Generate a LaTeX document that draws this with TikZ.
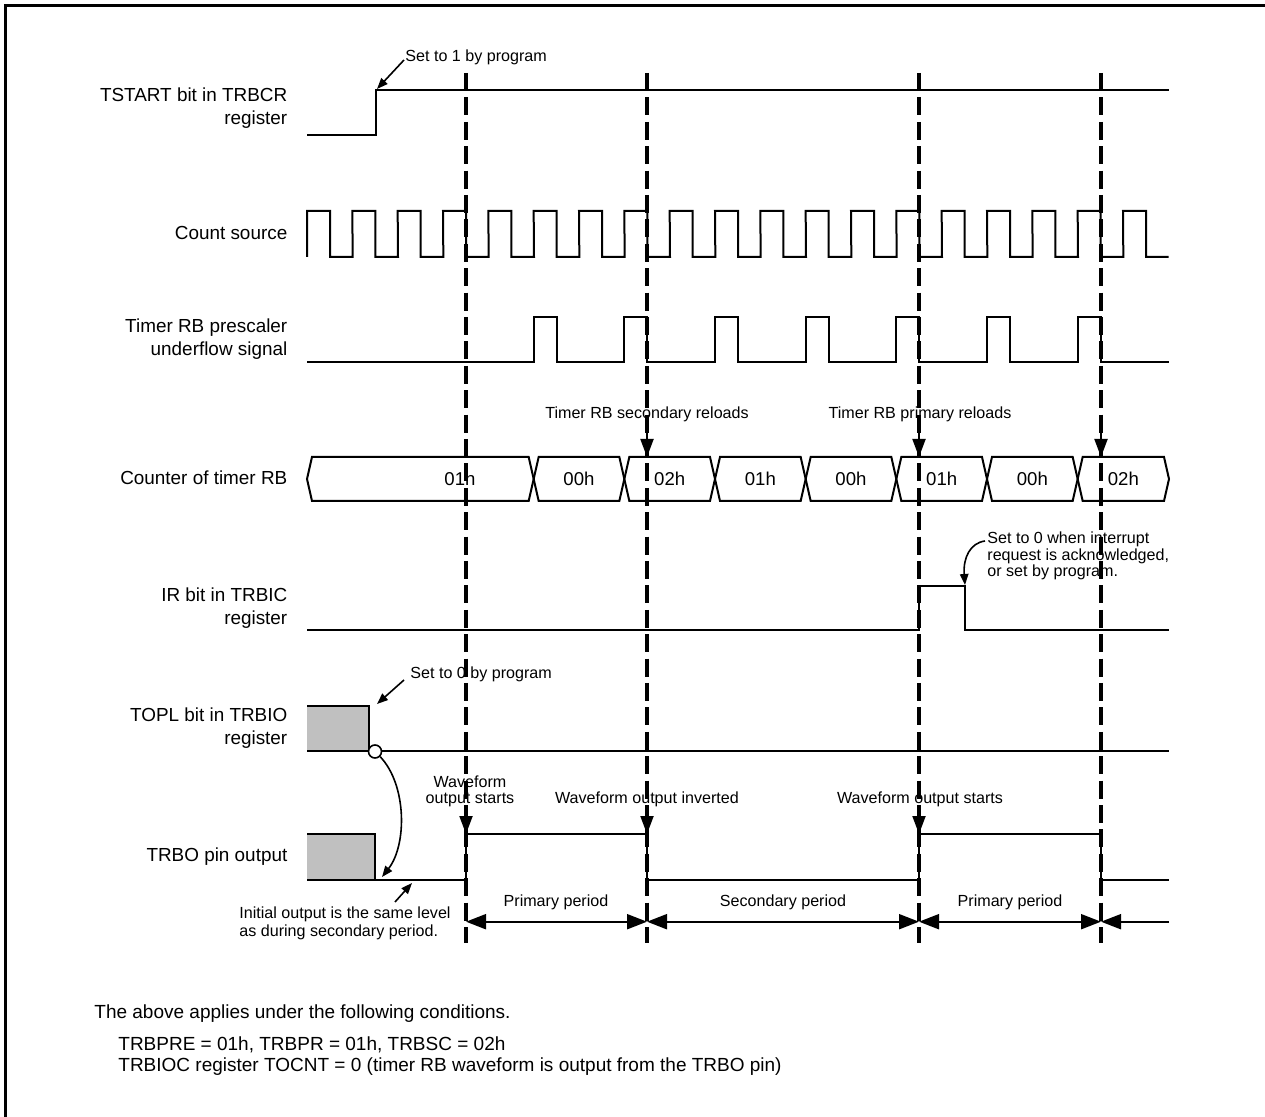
\documentclass[tikz,border=0pt]{standalone}
\usepackage{fontspec}
\setmainfont{Liberation Sans}
\usetikzlibrary{arrows.meta}
\definecolor{boxgray}{RGB}{192,192,192}
\begin{document}
\begin{tikzpicture}[x=0.5pt,y=-0.5pt,
  wave/.style={line width=1pt},
  guide/.style={line width=1.7pt, dash pattern=on 9pt off 3.2pt},
  lbl/.style={font=\fontsize{9.45}{11.4}\selectfont, align=right, anchor=east, inner sep=0pt},
  ann/.style={font=\fontsize{8.05}{8.1}\selectfont, inner sep=0pt},
  cnt/.style={font=\fontsize{9.3}{11}\selectfont, inner sep=0pt},
  foot/.style={font=\fontsize{9.5}{11}\selectfont, anchor=west, inner sep=0pt},
  downarr/.style={line width=1pt, -{Triangle[length=9pt,width=6.5pt]}},
  dimarr/.style={line width=1pt, {Triangle[length=10pt,width=7.5pt]}-{Triangle[length=10pt,width=7.5pt]}},
  leftarr/.style={line width=1pt, -{Triangle[length=10pt,width=7.5pt]}},
  sarr/.style={line width=0.8pt, -{Triangle[length=5.5pt,width=4.2pt]}}]
\useasboundingbox (0,0) rectangle (1265,1117);
% frame
\draw[line width=1.75pt] (5.3,1117) -- (5.3,5.5) -- (1265,5.5);

% row labels
\node[lbl] (lTS) at (287.7,108) {TSTART bit in TRBCR\\register};
\node[lbl] (lCS) at (287.7,233) {Count source};
\node[lbl] (lPS) at (287.7,339) {Timer RB prescaler\\underflow signal};
\node[lbl] (lCT) at (287.7,478) {Counter of timer RB};
\node[lbl] (lIR) at (287.7,608) {IR bit in TRBIC\\register};
\node[lbl] (lTP) at (287.7,728) {TOPL bit in TRBIO\\register};
\node[lbl] (lTO) at (287.7,857) {TRBO pin output};

% TSTART
\draw[wave] (307,135) -- (376,135) -- (376,90) -- (1169,90);
\node[ann, anchor=west] (set1) at (405,57) {Set to 1 by program};
\coordinate (set1a) at (404,60);
\coordinate (set1b) at (377,89);
\draw[sarr] (set1a) -- (set1b);

% count source
\draw[wave] (307,257) \foreach \k in {0,...,18} {
  -- ({307+45.333*\k},211) -- ({330+45.333*\k},211) -- ({330+45.333*\k},257) -- ({352.667+45.333*\k},257) };

% prescaler underflow
\draw[wave] (307,362) \foreach \k in {5,7,...,17} {
  -- ({307+45.333*\k},362) -- ({307+45.333*\k},317) -- ({330+45.333*\k},317) -- ({330+45.333*\k},362) } -- (1169,362);

% counter of timer RB
\foreach \a/\b/\t/\tx [count=\i] in {307/533.67/01h/460, 533.67/624.33/00h/579, 624.33/715/02h/669.67, 715/805.67/01h/760.33, 805.67/896.33/00h/851, 896.33/987/01h/941.67, 987/1077.67/00h/1032.33, 1077.67/1169/02h/1123.33} {
  \draw[wave] (\a,479) -- ({\a+5},457) -- ({\b-5},457) -- (\b,479) -- ({\b-5},501) -- ({\a+5},501) -- cycle;
  \node[cnt] (c\i) at (\tx,479) {\t};
}
\node[ann] (secrel) at (647,414) {Timer RB secondary reloads};
\node[ann] (primrel) at (920,414) {Timer RB primary reloads};
\coordinate (r1a) at (647,425); \coordinate (r1b) at (647,457);
\coordinate (r2a) at (919,425); \coordinate (r2b) at (919,457);
\coordinate (r3a) at (1101,425); \coordinate (r3b) at (1101,457);
\draw[downarr] (r1a) -- (r1b);
\draw[downarr] (r2a) -- (r2b);
\draw[downarr] (r3a) -- (r3b);

% IR bit
\draw[wave] (307,630) -- (919,630) -- (919,586) -- (965,586) -- (965,630) -- (1169,630);
\node[ann, anchor=west, align=left] (irnote) at (987,556) {Set to 0 when interrupt\\request is acknowledged,\\or set by program.};
\coordinate (ira) at (985,541);
\coordinate (irb) at (965,585);
\draw[sarr] (ira) .. controls (970,543) and (963,558) .. (irb);

% TOPL
\fill[boxgray] (307,706) rectangle (369,751);
\draw[wave] (307,706) -- (369,706) -- (369,751);
\draw[wave] (307,751) -- (1169,751);
\node[ann, anchor=west] (set0) at (410,674) {Set to 0 by program};
\coordinate (set0a) at (404,680);
\coordinate (set0b) at (377,704);
\draw[sarr] (set0a) -- (set0b);
\node[circle, draw, fill=white, line width=0.8pt, minimum size=6.5pt, inner sep=0pt] (circ) at (375,751.5) {};

% TRBO
\fill[boxgray] (307,834) rectangle (375,880);
\draw[wave] (307,834) -- (375,834) -- (375,880);
\draw[wave] (307,880) -- (466,880) -- (466,834) -- (647,834) -- (647,880) -- (919,880) -- (919,834) -- (1101,834) -- (1101,880) -- (1169,880);
\coordinate (cend) at (382,877);
\draw[sarr] (circ.south east) .. controls (407,785) and (407,845) .. (cend);

\node[ann, align=center] (wf1) at (470,791) {Waveform\\output starts};
\node[ann] (wf2) at (647,799) {Waveform output inverted};
\node[ann] (wf3) at (920,799) {Waveform output starts};
\coordinate (w1a) at (466,806); \coordinate (w1b) at (466,834);
\coordinate (w2a) at (647,806); \coordinate (w2b) at (647,834);
\coordinate (w3a) at (919,806); \coordinate (w3b) at (919,834);
\draw[downarr] (w1a) -- (w1b);
\draw[downarr] (w2a) -- (w2b);
\draw[downarr] (w3a) -- (w3b);

\node[ann, anchor=west, align=left, font=\fontsize{8.05}{8.85}\selectfont] (init) at (239,923) {Initial output is the same level\\as during secondary period.};
\coordinate (inita) at (395,902);
\coordinate (initb) at (412,883);
\draw[sarr] (inita) -- (initb);

% period dimensions
\coordinate (d1) at (466,921.7);
\coordinate (d2) at (647,921.7);
\coordinate (d3) at (919,921.7);
\coordinate (d4) at (1101,921.7);
\coordinate (d5) at (1169,921.7);
\draw[dimarr] (d1) -- (d2);
\draw[dimarr] (d2) -- (d3);
\draw[dimarr] (d3) -- (d4);
\draw[leftarr] (d5) -- (d4);
\node[ann] (p1) at (556,902.7) {Primary period};
\node[ann] (p2) at (783,902.7) {Secondary period};
\node[ann] (p3) at (1010,902.7) {Primary period};

% dashed guides
\foreach \x in {466,647,919,1101} {
  \draw[guide] (\x,73) -- (\x,943);
}

% footnote
\node[foot] (f1) at (94,1014) {The above applies under the following conditions.};
\node[foot] (f2) at (118,1045) {TRBPRE = 01h, TRBPR = 01h, TRBSC = 02h};
\node[foot] (f3) at (118,1067) {TRBIOC register TOCNT = 0 (timer RB waveform is output from the TRBO pin)};
\end{tikzpicture}
\end{document}
